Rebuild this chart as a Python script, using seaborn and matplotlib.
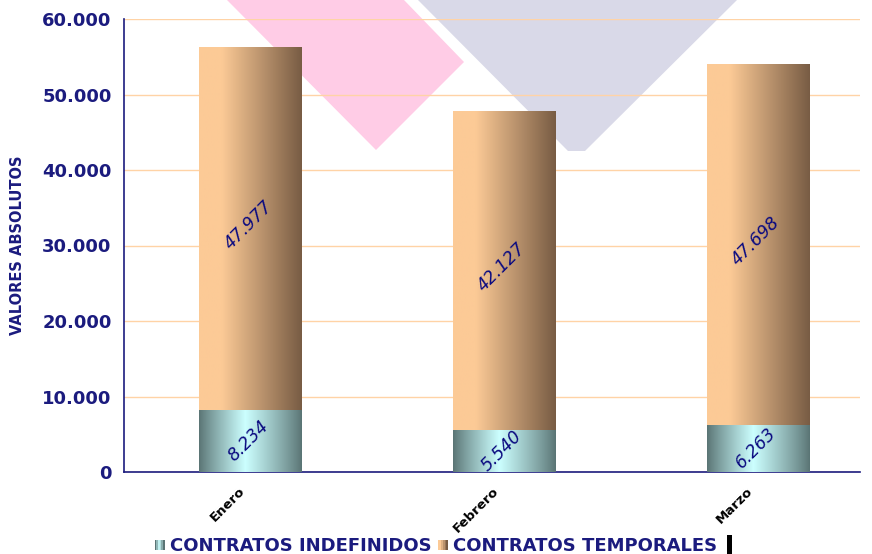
import numpy as np
import pandas as pd
import matplotlib
matplotlib.use("Agg")
import matplotlib.pyplot as plt
import matplotlib.transforms as mtransforms
import seaborn as sns
from matplotlib.patches import Polygon, Rectangle
from matplotlib.colors import to_rgb
from matplotlib.legend_handler import HandlerBase

# ---- data ----
months = ["Enero", "Febrero", "Marzo"]
indefinidos = [8234, 5540, 6263]
temporales = [47977, 42127, 47698]
series_names = ["CONTRATOS INDEFINIDOS", "CONTRATOS TEMPORALES"]
yticks = [0, 10000, 20000, 30000, 40000, 50000, 60000]

NAVY = "#1B1B7E"
LABEL_NAVY = "#0A0A80"

def fmt(v):
    return f"{v:,}".replace(",", ".")

def grad_temp(n=200):
    t = np.linspace(0, 1, n)
    a = np.array(to_rgb("#FCCA96"))
    b = np.array(to_rgb("#785C44"))
    f = np.clip((t - 0.22) / 0.78, 0, 1)
    return a[None, :] * (1 - f[:, None]) + b[None, :] * f[:, None]

def grad_indef(n=200):
    t = np.linspace(0, 1, n)
    d = np.array(to_rgb("#5A7474"))
    l = np.array(to_rgb("#CCFFFF"))
    f = np.where(t < 0.45, t / 0.45, (1 - t) / 0.55)
    f = np.clip(f, 0, 1) ** 0.9
    return d[None, :] * (1 - f[:, None]) + l[None, :] * f[:, None]

sns.set_style("white")
fig = plt.figure(figsize=(8.72, 5.54), dpi=100)
ax = fig.add_axes([124 / 872, 1 - 472 / 554, (860 - 124) / 872, (472 - 19) / 554])
ax.patch.set_alpha(0)

# decorative background shapes (figure pixel coords)
def figpoly(pts, color):
    p = Polygon([(x / 872, 1 - y / 554) for x, y in pts], closed=True,
                transform=fig.transFigure, facecolor=color, edgecolor="none", zorder=-1)
    fig.add_artist(p)

figpoly([(227, 0), (404, 0), (464, 62), (376, 150)], "#FFCCE6")
figpoly([(418, 0), (737, 0), (585, 151), (568, 151)], "#D9D9E8")

df = pd.DataFrame({"mes": months, "indef": indefinidos, "temp": temporales})

sns.barplot(data=df, x="mes", y="indef", color="#9FCFCF", width=0.406,
            errorbar=None, ax=ax, zorder=3)
n_indef = len(ax.patches)
sns.barplot(data=df, x="mes", y="temp", bottom=df["indef"].values, color="#C9A078",
            width=0.406, errorbar=None, ax=ax, zorder=3)

gi = grad_indef()[None, :, :]
gt = grad_temp()[None, :, :]
for i, p in enumerate(ax.patches):
    x, y = p.get_x(), p.get_y()
    w, h = p.get_width(), p.get_height()
    img = gi if i < n_indef else gt
    ax.imshow(img, extent=[x, x + w, y, y + h], aspect="auto", zorder=3,
              interpolation="bilinear")
    p.set_visible(False)
ax.set_ylim(0, 60000)
ax.set_xlim(-0.5, 2.402)

# value labels
for i in range(len(months)):
    ax.text(i - 0.01, indefinidos[i] / 2, fmt(indefinidos[i]), rotation=45,
            ha="center", va="center", fontsize=12.5, style="italic", color=LABEL_NAVY, zorder=5)
    ax.text(i - 0.01, indefinidos[i] + temporales[i] / 2 + 500, fmt(temporales[i]), rotation=45,
            ha="center", va="center", fontsize=12.5, style="italic", color=LABEL_NAVY, zorder=5)

# axes styling
ax.set_yticks(yticks)
ax.set_yticklabels([fmt(v) for v in yticks], fontsize=13, fontweight="bold", color=NAVY)
ax.yaxis.grid(True, color="#FFD3A6", linewidth=1.0, zorder=0)
ax.set_axisbelow(True)
ax.tick_params(axis="y", direction="out", length=5, color=NAVY, width=1, pad=4)
ax.set_xticks([0, 1, 2])
ax.set_xticklabels(months, rotation=45, ha="right", rotation_mode="anchor",
                   fontsize=9.5, fontweight="bold", color="black")
ax.tick_params(axis="x", which="major", length=0, pad=9)
offset = mtransforms.ScaledTranslation(-12 / 100, 0, fig.dpi_scale_trans)
for lab in ax.get_xticklabels():
    lab.set_transform(lab.get_transform() + offset)
ax.set_xticks([0.5, 1.5], minor=True)
ax.tick_params(axis="x", which="minor", direction="out", length=5, color=NAVY, width=1)
for s in ["top", "right"]:
    ax.spines[s].set_visible(False)
ax.spines["left"].set_color(NAVY)
ax.spines["bottom"].set_color(NAVY)
ax.spines["left"].set_linewidth(1.2)
ax.spines["bottom"].set_linewidth(1.2)
ax.set_xlabel("")
ax.set_ylabel("VALORES ABSOLUTOS", fontsize=10.5, fontweight="bold", color=NAVY)
ax.yaxis.set_label_coords(-(124 - 18) / 736, 0.5)
ax.yaxis.label.set_va("center")

# legend with gradient handles
class GradHandler(HandlerBase):
    def __init__(self, grad, kind="grad"):
        super().__init__()
        self.grad = grad
        self.kind = kind
    def create_artists(self, legend, orig_handle, xdescent, ydescent, width, height, fontsize, trans):
        if self.kind == "bar":
            r = Rectangle((width * 0.3 - xdescent, -ydescent - height * 0.45), width * 0.5, height * 1.7,
                          facecolor="black", edgecolor="none", transform=trans)
            return [r]
        arts = []
        n = len(self.grad)
        sw = width / n
        for k, c in enumerate(self.grad):
            r = Rectangle((k * sw - xdescent, -ydescent + height * 0.05), sw, height * 0.8,
                          facecolor=c, edgecolor="none", transform=trans)
            arts.append(r)
        return arts

h1, h2, h3 = Rectangle((0, 0), 1, 1), Rectangle((0, 0), 1, 1), Rectangle((0, 0), 1, 1)
leg = fig.legend([h1, h2, h3], [series_names[0], series_names[1], ""],
                 handler_map={h1: GradHandler(grad_indef(6)), h2: GradHandler(grad_temp(6)),
                              h3: GradHandler(None, "bar")},
                 loc="center", bbox_to_anchor=(447 / 872, 1 - 546 / 554), ncol=3, frameon=False,
                 handlelength=0.55, handleheight=0.7, handletextpad=0.3, columnspacing=0.35,
                 prop={"weight": "bold", "size": 13}, borderpad=0)
for t in leg.get_texts():
    t.set_color(NAVY)

fig.savefig("out.png", dpi=100)
